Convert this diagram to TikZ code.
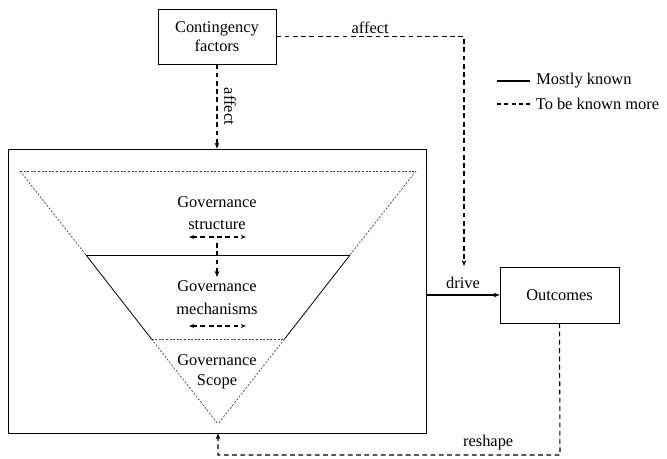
\documentclass[tikz,border=0pt]{standalone}
\usepackage{fontspec}
\setmainfont{Liberation Serif}
\usetikzlibrary{arrows.meta}
\begin{document}
\begin{tikzpicture}[x=0.75pt,y=-0.75pt,
  every node/.style={font=\fontsize{12.3}{14}\selectfont},
  box/.style={draw, line width=0.6pt, align=center, inner sep=0pt},
  link/.style={line width=0.8pt, dash pattern=on 3.6pt off 2.6pt, -{Stealth[length=4.5pt,width=3.5pt]}},
  solidlink/.style={line width=0.8pt, -{Stealth[length=4.5pt,width=3.5pt]}},
  twoway/.style={line width=0.8pt, dash pattern=on 3.6pt off 2.6pt, {Stealth[length=4pt,width=3pt]}-{Stealth[length=4pt,width=3pt]}},
  fine/.style={line width=0.5pt, dash pattern=on 1.5pt off 1.2pt, draw=black!75},
  edge/.style={line width=0.6pt},
  lbl/.style={inner sep=1pt}]
\useasboundingbox (0,0) rectangle (667,458);

% main blocks
\node[box, minimum width=88.5pt, minimum height=41.25pt] (cf) at (217,36.5) {Contingency\\factors};
\node[box, minimum width=89.25pt, minimum height=42pt] (out) at (559.5,295) {Outcomes};
\node[draw, line width=0.6pt, minimum width=313.5pt, minimum height=213pt, inner sep=0pt] (frame) at (217,291) {};

% governance triangle
\coordinate (tl) at (20,171);
\coordinate (tr) at (416,171);
\coordinate (ml) at (86,255);
\coordinate (mr) at (350,255);
\coordinate (bl) at (151.5,339);
\coordinate (br) at (284.5,339);
\coordinate (apex) at (218,424);
\draw[fine] (tl) -- (tr);
\draw[fine] (tl) -- (ml);
\draw[fine] (tr) -- (mr);
\draw[edge] (ml) -- (mr);
\draw[edge] (ml) -- (bl);
\draw[edge] (mr) -- (br);
\draw[fine] (bl) -- (br);
\draw[fine] (bl) -- (apex);
\draw[fine] (br) -- (apex);

% layer labels
\node (gs) at (217,202) {Governance};
\node (gs2) at (217,225) {structure};
\node (gm) at (217,286) {Governance};
\node (gm2) at (217,309) {mechanisms};
\node (gsc) at (217,360) {Governance};
\node (gsc2) at (217,382) {Scope};
\coordinate (s1) at (189,237);
\coordinate (s2) at (246,237);
\draw[twoway] (s1) -- (s2);
\coordinate (m1) at (189,326);
\coordinate (m2) at (246,326);
\draw[twoway] (m1) -- (m2);
\coordinate (sv1) at (217,243);
\coordinate (sv2) at (217,277);
\draw[link] (sv1) -- (sv2);

% connectors
\draw[link] (cf.south) -- (cf.south |- frame.north)
  node[midway, right=4pt, rotate=-90, anchor=south, lbl] {affect};
\coordinate (drop) at (464,266);
\draw[link] (cf.east) -| (drop)
  node[pos=0.25, above=1pt, lbl] {affect};
\draw[solidlink] (frame.east |- out.west) -- (out.west)
  node[midway, above=3pt, lbl] {drive};
\coordinate (low) at (560,455);
\draw[link] (out.south) -- (low) -| (apex |- frame.south)
  node[pos=0.105, above=2pt, lbl] {reshape};

% legend
\coordinate (k1) at (497,81);
\coordinate (k2) at (530,81);
\coordinate (k3) at (497,104);
\coordinate (k4) at (530,104);
\draw[line width=1.4pt] (k1) -- (k2) node[right=3pt, lbl] {Mostly known};
\draw[line width=0.8pt, dash pattern=on 3pt off 2.5pt] (k3) -- (k4) node[right=3pt, lbl] {To be known more};
\end{tikzpicture}
\end{document}
